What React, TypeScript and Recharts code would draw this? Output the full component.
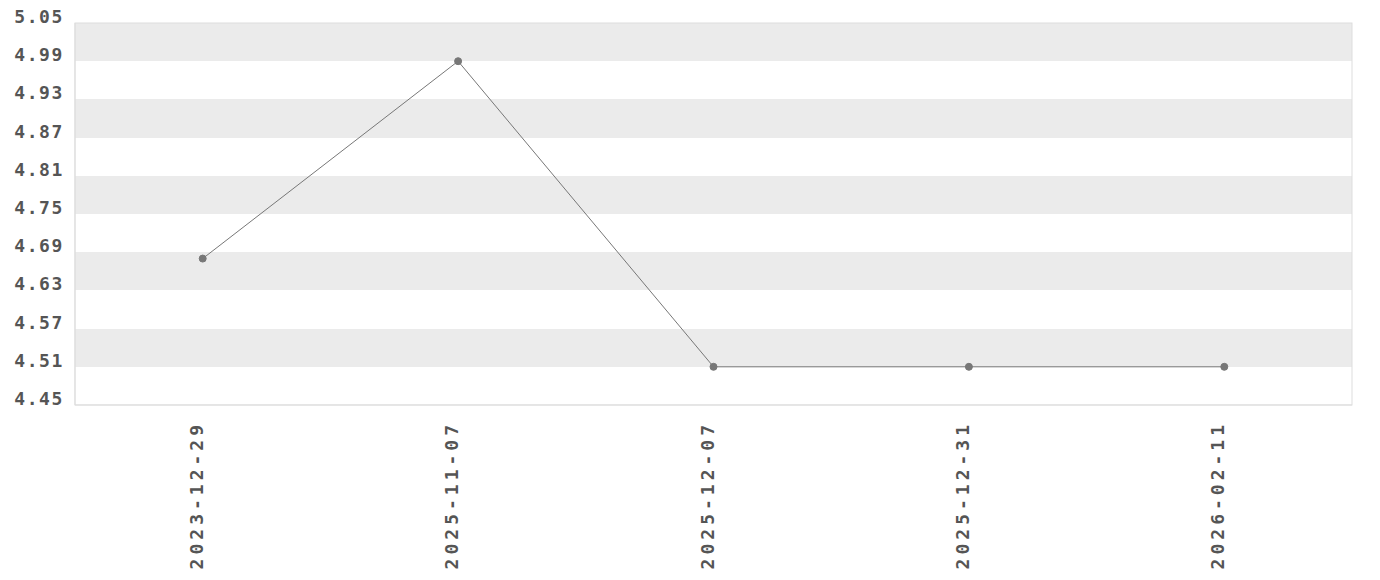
import * as Recharts from "recharts";
import { LineChart, Line, XAxis, YAxis, CartesianGrid } from "recharts";

const DATES = ["2023-12-29", "2025-11-07", "2025-12-07", "2025-12-31", "2026-02-11"];
const RATES = [4.68, 4.99, 4.51, 4.51, 4.51];
const Y_TICKS = [4.45, 4.51, 4.57, 4.63, 4.69, 4.75, 4.81, 4.87, 4.93, 4.99, 5.05];

const chartData = DATES.map((d, i) => ({ date: d, rate: RATES[i] }));

const FONT = "'DejaVu Sans Mono', monospace";
const BORDER = "#dddddd";

const usePlotArea = (Recharts as any).usePlotArea;

const PlotBorder = () => {
  const area = usePlotArea ? usePlotArea() : null;
  if (!area) return null;
  return (
    <rect x={area.x} y={area.y} width={area.width} height={area.height} fill="none" stroke={BORDER} strokeWidth={1} />
  );
};

const YTick = ({ x, y, payload }: any) => (
  <text x={x} y={y} textAnchor="end" fill="#555" fontFamily={FONT} fontWeight="bold" fontSize={18} letterSpacing={1.6}>
    {payload.value.toFixed(2)}
  </text>
);

const XTick = ({ x, y, payload }: any) => (
  <g transform={`translate(${x},${y + 14})`}>
    <text transform="rotate(-90)" textAnchor="end" fill="#555" fontFamily={FONT} fontWeight="bold" fontSize={18} letterSpacing={4}>
      {payload.value}
    </text>
  </g>
);

export default function App() {
  return (
    <div style={{ width: 1380, height: 580, margin: -8 }}>
      <LineChart width={1380} height={580} data={chartData} margin={{ top: 23, right: 28, bottom: 0, left: 8 }}>
        <CartesianGrid vertical={false} stroke="none" horizontalFill={["#ebebeb", "#ffffff"]} />
        <PlotBorder />
        <XAxis
          dataKey="date"
          height={175}
          axisLine={{ stroke: BORDER }}
          tickLine={false}
          tickSize={0}
          tick={<XTick />}
          interval={0}
          padding={{ left: 127.7, right: 127.7 }}
        />
        <YAxis
          domain={[4.45, 5.05]}
          ticks={Y_TICKS}
          width={67}
          axisLine={{ stroke: BORDER }}
          tickLine={false}
          tickSize={0}
          tickMargin={11}
          tick={<YTick />}
          interval={0}
        />
        <Line
          type="linear"
          dataKey="rate"
          stroke="#777"
          strokeWidth={1}
          dot={{ r: 3.5, fill: "#777", stroke: "#777", strokeWidth: 1 }}
          isAnimationActive={false}
        />
      </LineChart>
    </div>
  );
}
